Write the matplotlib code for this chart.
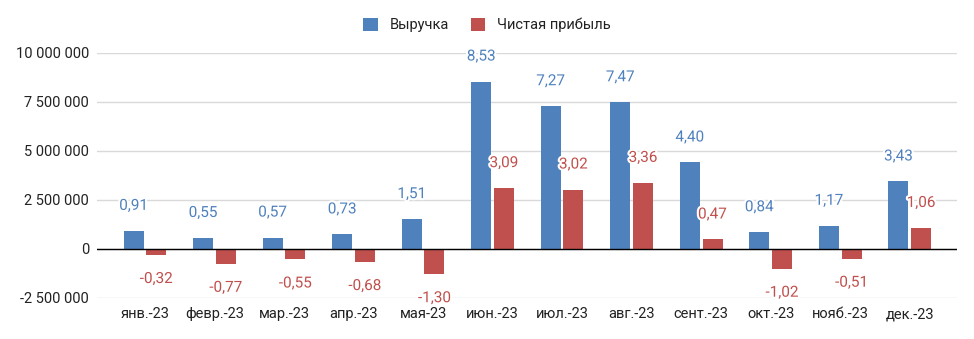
#!/usr/bin/env python3
"""
Revenue and net profit by month, 2023 (values in millions of rubles)
"""

import matplotlib
matplotlib.use('Agg')
import matplotlib.pyplot as plt
import matplotlib.patheffects as pe
from matplotlib.ticker import FuncFormatter
import numpy as np

plt.rcParams['font.family'] = ['Roboto', 'DejaVu Sans']

months = ['янв.-23', 'февр.-23', 'мар.-23', 'апр.-23', 'мая-23', 'июн.-23',
          'июл.-23', 'авг.-23', 'сент.-23', 'окт.-23', 'нояб.-23', 'дек.-23']
revenue_mln = [0.91, 0.55, 0.57, 0.73, 1.51, 8.53, 7.27, 7.47, 4.40, 0.84, 1.17, 3.43]
profit_mln = [-0.32, -0.77, -0.55, -0.68, -1.30, 3.09, 3.02, 3.36, 0.47, -1.02, -0.51, 1.06]
series_names = ['Выручка', 'Чистая прибыль']

BLUE = '#4f81bd'
RED = '#c0504d'


def fmt_thousands(v, pos):
    return f'{v:,.0f}'.replace(',', ' ')


def fmt_label(v):
    return f'{v:.2f}'.replace('.', ',')


fig = plt.figure(figsize=(9.74, 3.39), dpi=100)
ax = fig.add_axes([0.0999, 0.1218, 0.8827, 0.7227])

x = np.arange(len(months))
width = 0.288
offset = 0.163

rev = np.array(revenue_mln) * 1e6
prof = np.array(profit_mln) * 1e6

b1 = ax.bar(x - offset, rev, width, color=BLUE, label=series_names[0], zorder=2)
b2 = ax.bar(x + offset, prof, width, color=RED, label=series_names[1], zorder=2)

halo = [pe.withStroke(linewidth=3, foreground='white')]
for bars, vals, col in ((b1, revenue_mln, BLUE), (b2, profit_mln, RED)):
    for bar, v in zip(bars, vals):
        cx = bar.get_x() + bar.get_width() / 2
        dy = 25 if v >= 0 else -24
        ax.annotate(fmt_label(v), (cx, v * 1e6), xytext=(0, dy),
                    textcoords='offset pixels', ha='center', va='center',
                    fontsize=11, color=col, path_effects=halo, zorder=4)

ax.set_xlim(-0.686, 11.68)
ax.set_ylim(-2.5e6, 10e6)
ax.set_yticks([-2.5e6, 0, 2.5e6, 5e6, 7.5e6, 10e6])
ax.yaxis.set_major_formatter(FuncFormatter(fmt_thousands))
ax.set_xticks(x)
ax.set_xticklabels(months)

ax.grid(True, axis='y', color='#d9d9d9', linewidth=1, zorder=0)
ax.set_axisbelow(True)
ax.axhline(0, color='black', linewidth=1, zorder=3)

for s in ax.spines.values():
    s.set_visible(False)
ax.tick_params(axis='both', length=0, labelsize=10.5, colors='#222222')
ax.tick_params(axis='y', pad=6)
ax.tick_params(axis='x', pad=7)

fig.legend(handles=[b1, b2], labels=series_names, loc='center',
           bbox_to_anchor=(0.5, 0.926), ncol=2, frameon=False,
           fontsize=10.5, handlelength=1.0, handleheight=1.0,
           handletextpad=0.8, columnspacing=1.5, labelcolor='#222222')

plt.savefig('out.png', dpi=100)
